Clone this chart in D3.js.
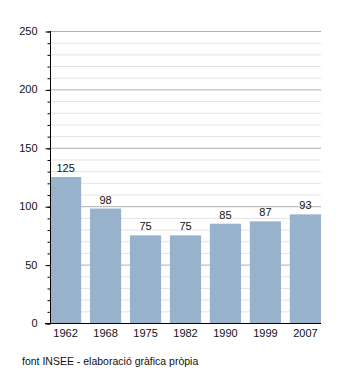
<!DOCTYPE html>
<html>
<head>
<meta charset="utf-8">
<script src="https://cdn.jsdelivr.net/npm/d3@7"></script>
<style>
  html, body { margin: 0; padding: 0; background: #fff; }
  svg { display: block; font-family: "Liberation Sans", Arial, sans-serif; }
</style>
</head>
<body>
<svg id="chart" width="350" height="373"></svg>
<script>
// Population by census year
const years = ["1962", "1968", "1975", "1982", "1990", "1999", "2007"];
const values = [125, 98, 75, 75, 85, 87, 93];
const majorTicks = [0, 50, 100, 150, 200, 250];
const minorTicks = d3.range(0, 251, 10);
const source = "font INSEE - elaboració gràfica pròpia";

const svg = d3.select("#chart");
const plotLeft = 50, plotRight = 321, plotTop = 31, plotBottom = 323;

const x = d3.scaleBand().domain(years).range([plotLeft, plotRight]).paddingInner(0.22).paddingOuter(0);
const y = d3.scaleLinear().domain([0, 250]).range([plotBottom, plotTop]);

// grid lines
svg.append("g").selectAll("line").data(minorTicks.filter(d => d % 50 !== 0)).join("line")
  .attr("x1", plotLeft).attr("x2", plotRight)
  .attr("y1", d => y(d) + 0.5).attr("y2", d => y(d) + 0.5)
  .attr("stroke", "#e3e3e3").attr("stroke-width", 1);
svg.append("g").selectAll("line").data(majorTicks.filter(d => d > 0)).join("line")
  .attr("x1", plotLeft).attr("x2", plotRight)
  .attr("y1", d => y(d) + 0.5).attr("y2", d => y(d) + 0.5)
  .attr("stroke", "#b0b0b0").attr("stroke-width", 1);

// bars
svg.append("g").selectAll("rect").data(values).join("rect")
  .attr("x", (d, i) => x(years[i]))
  .attr("width", x.bandwidth())
  .attr("y", d => y(d))
  .attr("height", d => y(0) - y(d))
  .attr("fill", "#98b2cb");

// value labels
svg.append("g").selectAll("text").data(values).join("text")
  .attr("x", (d, i) => x(years[i]) + x.bandwidth() / 2)
  .attr("y", d => y(d) - 5)
  .attr("text-anchor", "middle")
  .attr("font-size", 11)
  .attr("fill", "#111")
  .text(d => d);

// y axis: minor ticks
const yAxisMinor = d3.axisLeft(y).tickValues(minorTicks).tickSize(3).tickFormat("");
svg.append("g").attr("transform", `translate(${plotLeft + 0.5},0)`).call(yAxisMinor)
  .call(g => g.select(".domain").remove())
  .call(g => g.selectAll("line").attr("stroke", "#000").attr("transform", "translate(0,0.5)"));

// y axis: major ticks and labels
const yAxis = d3.axisLeft(y).tickValues(majorTicks).tickSize(5).tickPadding(8);
svg.append("g").attr("transform", `translate(${plotLeft + 0.5},0)`).call(yAxis)
  .call(g => g.select(".domain").attr("stroke", "#000").attr("d", `M0,${plotTop}V${plotBottom + 0.5}`))
  .call(g => g.selectAll(".tick line").attr("stroke", "#000").attr("transform", "translate(0,0.5)"))
  .call(g => g.selectAll("text").attr("font-size", 11).attr("fill", "#111")
    .attr("font-family", "Liberation Sans, Arial, sans-serif"));

// x axis
const xAxis = d3.axisBottom(x).tickSize(0).tickPadding(6);
svg.append("g").attr("transform", `translate(0,${plotBottom + 0.5})`).call(xAxis)
  .call(g => g.select(".domain").attr("stroke", "#000").attr("d", `M${plotLeft - 5},0H${plotRight}`))
  .call(g => g.selectAll("text").attr("font-size", 11).attr("fill", "#111")
    .attr("font-family", "Liberation Sans, Arial, sans-serif"));

// source note
svg.append("text")
  .attr("x", 22).attr("y", 365)
  .attr("font-size", 10.5).attr("fill", "#111")
  .text(source);
</script>
</body>
</html>
